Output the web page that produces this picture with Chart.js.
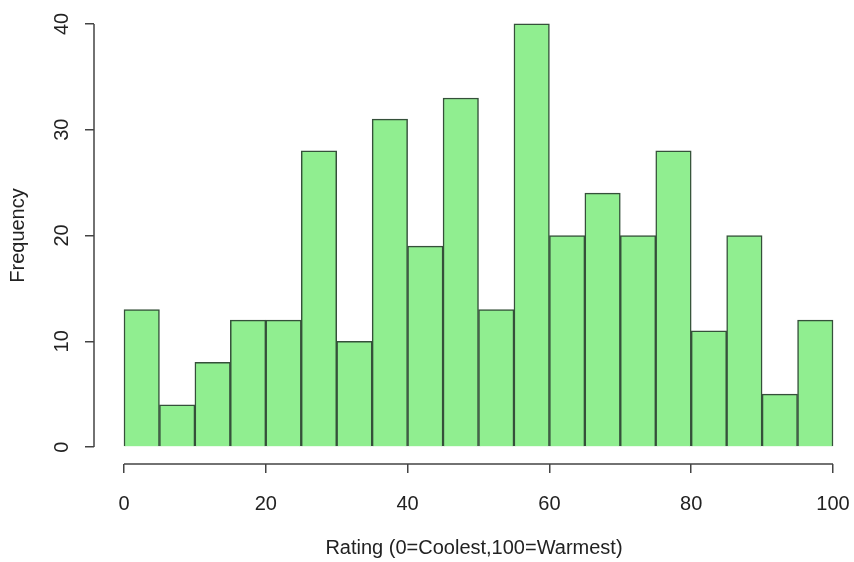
<!DOCTYPE html>
<html>
<head>
<meta charset="utf-8">
<script src="https://cdn.jsdelivr.net/npm/chart.js@4/dist/chart.umd.min.js"></script>
<style>
  html, body { margin: 0; padding: 0; background: #fff; }
  #wrap { width: 854px; height: 562px; }
</style>
</head>
<body>
<div id="wrap"><canvas id="myChart"></canvas></div>
<script>
// histogram bins (left edge of each bin, width 5)
const binLefts = [0, 5, 10, 15, 20, 25, 30, 35, 40, 45, 50, 55, 60, 65, 70, 75, 80, 85, 90, 95];
const binWidth = 5;
const counts = [13, 4, 8, 12, 12, 28, 10, 31, 19, 33, 13, 40, 20, 24, 20, 28, 11, 20, 5, 12];
const xTicks = [0, 20, 40, 60, 80, 100];
const yTicks = [0, 10, 20, 30, 40];
const xTitle = "Rating (0=Coolest,100=Warmest)";
const yTitle = "Frequency";

const ink = "#222";
const axisColor = "#444";
const font = { family: "Liberation Sans, Arial, sans-serif", size: 20 };

// R-style detached axis lines, drawn only over the tick range
const axisLines = {
  id: "axisLines",
  afterDraw(chart) {
    const { ctx, chartArea, scales } = chart;
    ctx.save();
    ctx.strokeStyle = axisColor;
    ctx.lineWidth = 1.5;
    ctx.beginPath();
    ctx.moveTo(scales.x.getPixelForValue(xTicks[0]), chartArea.bottom);
    ctx.lineTo(scales.x.getPixelForValue(xTicks[xTicks.length - 1]), chartArea.bottom);
    ctx.moveTo(chartArea.left, scales.y.getPixelForValue(yTicks[0]));
    ctx.lineTo(chartArea.left, scales.y.getPixelForValue(yTicks[yTicks.length - 1]));
    ctx.stroke();
    ctx.restore();
  },
};

const ctx = document.getElementById("myChart").getContext("2d");
new Chart(ctx, {
  type: "bar",
  data: {
    datasets: [
      {
        label: yTitle,
        data: binLefts.map((b, i) => ({ x: b + binWidth / 2, y: counts[i] })),
        backgroundColor: "#90EE90",
        borderColor: "#35503a",
        borderWidth: 1.5,
        barPercentage: 1,
        categoryPercentage: 1,
      },
    ],
  },
  options: {
    responsive: true,
    maintainAspectRatio: false,
    animation: false,
    layout: { padding: { top: 7, right: 0, left: 0, bottom: 0 } },
    plugins: {
      legend: { display: false },
      tooltip: { enabled: false },
    },
    scales: {
      x: {
        type: "linear",
        min: -4.23,
        max: 102.96,
        offset: false,
        afterBuildTicks: (scale) => {
          scale.ticks = xTicks.map((v) => ({ value: v }));
        },
        afterFit: (scale) => {
          scale.height = 98;
          // don't let the "100" label shrink the plot
          scale.paddingLeft = 0;
          scale.paddingRight = 0;
        },
        border: { display: false },
        grid: {
          offset: false,
          drawOnChartArea: false,
          drawTicks: true,
          tickLength: 9,
          color: axisColor,
          lineWidth: 1.5,
        },
        ticks: {
          padding: 19,
          color: ink,
          maxRotation: 0,
          font: font,
        },
        title: {
          display: true,
          text: xTitle,
          color: ink,
          padding: { top: 0, bottom: 2 },
          font: font,
        },
      },
      y: {
        min: -1.6,
        max: 41.6,
        afterBuildTicks: (scale) => {
          scale.ticks = yTicks.map((v) => ({ value: v }));
        },
        afterFit: (scale) => {
          scale.width = 94;
          scale.paddingTop = 0;
          scale.paddingBottom = 0;
        },
        border: { display: false },
        grid: {
          drawOnChartArea: false,
          drawTicks: true,
          tickLength: 9,
          color: axisColor,
          lineWidth: 1.5,
        },
        ticks: {
          minRotation: 90,
          maxRotation: 90,
          crossAlign: "center",
          padding: 11,
          color: ink,
          font: font,
        },
        title: {
          display: true,
          text: yTitle,
          color: ink,
          padding: { top: 6, bottom: 0 },
          font: font,
        },
      },
    },
  },
  plugins: [axisLines],
});
</script>
</body>
</html>
